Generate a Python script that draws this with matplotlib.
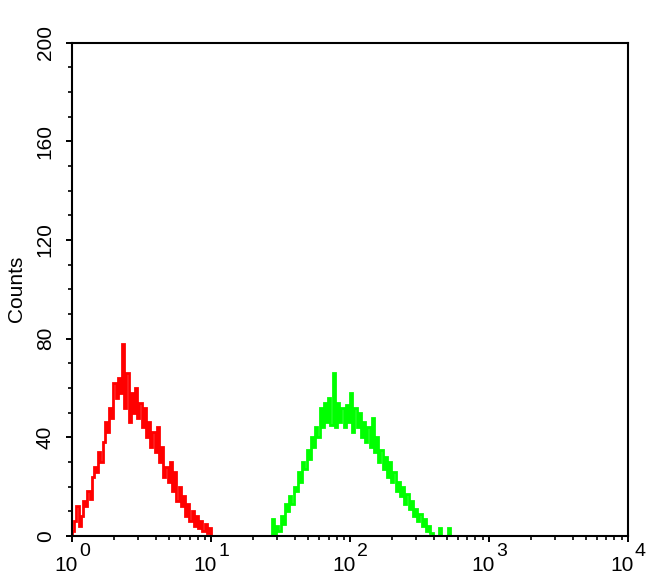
import numpy as np
import matplotlib.pyplot as plt
import matplotlib.transforms as mtrans
from matplotlib.ticker import MultipleLocator, LogLocator, NullFormatter

plt.rcParams['font.family'] = ['Liberation Sans', 'DejaVu Sans']

# channels are 64 per decade, log10 of first channel edge
chan_per_decade = 64
red_start = 0.0
green_start = 1.4375

red_counts = [2, 6, 12, 4, 8, 14, 12, 18, 15, 24, 28, 26, 34, 30, 38, 46,
              42, 52, 48, 62, 56, 64, 58, 78, 52, 66, 46, 58, 50, 60, 48, 54,
              44, 52, 40, 46, 36, 42, 34, 44, 30, 36, 24, 28, 22, 30, 18, 26,
              14, 20, 12, 16, 8, 13, 6, 10, 4, 8, 3, 6, 2, 5, 1, 3]

green_counts = [7, 0, 4, 2, 8, 5, 13, 10, 16, 13, 20, 18, 26, 22, 30, 27,
                35, 31, 40, 36, 44, 40, 52, 44, 54, 46, 56, 45, 66, 44, 54, 46,
                52, 44, 53, 46, 58, 42, 52, 44, 50, 40, 46, 38, 44, 36, 48, 34,
                40, 30, 35, 27, 32, 24, 30, 22, 26, 18, 22, 16, 20, 13, 17, 11,
                14, 8, 11, 6, 9, 4, 7, 2, 4, 1, 0, 0, 0, 3, 0, 0, 0, 3, 0]

yticks = [0, 40, 80, 120, 160, 200]
xticks = [1, 10, 100, 1000, 10000]
xexps = ['0', '1', '2', '3', '4']


def edges(start, n):
    return 10 ** (start + np.arange(n + 1) / chan_per_decade)


fig = plt.figure(figsize=(6.5, 5.85), dpi=100)
ax = fig.add_axes([0.111, 0.084, 0.855, 0.843])

ax.stairs(red_counts, edges(red_start, len(red_counts)), color='#ff0000', lw=2.0)
ax.stairs(green_counts, edges(green_start, len(green_counts)), color='#00ff00', lw=2.0)

ax.set_xscale('log')
ax.set_xlim(1, 10000)
ax.set_ylim(0, 200)
ax.set_xticks(xticks)
ax.set_xticklabels([])
ax.xaxis.set_minor_locator(LogLocator(base=10, subs=np.arange(2, 10)))
ax.xaxis.set_minor_formatter(NullFormatter())
ax.set_yticks(yticks)
ax.set_yticklabels([str(v) for v in yticks], fontsize=15, rotation=90, va='center')
ax.yaxis.set_minor_locator(MultipleLocator(10))

ax.tick_params(which='major', direction='out', length=4.5, width=1.4, color='black')
ax.tick_params(which='minor', direction='out', length=3, width=1.2, color='black')
ax.tick_params(axis='y', pad=8)
ax.tick_params(top=False, right=False, which='both')
for s in ax.spines.values():
    s.set_linewidth(1.5)

# 10^n labels with a large exponent, as in the original
base = mtrans.blended_transform_factory(ax.transData, ax.transAxes)
for xt, ex in zip(xticks, xexps):
    t1 = mtrans.offset_copy(base, fig=fig, x=6, y=-20, units='dots')
    ax.text(xt, 0, '10', transform=t1, ha='right', va='top', fontsize=15, clip_on=False)
    t2 = mtrans.offset_copy(base, fig=fig, x=7, y=-7, units='dots')
    ax.text(xt, 0, ex, transform=t2, ha='left', va='top', fontsize=14, clip_on=False)

ax.set_ylabel('Counts', fontsize=15, labelpad=7)

fig.savefig('out.png', dpi=100)
